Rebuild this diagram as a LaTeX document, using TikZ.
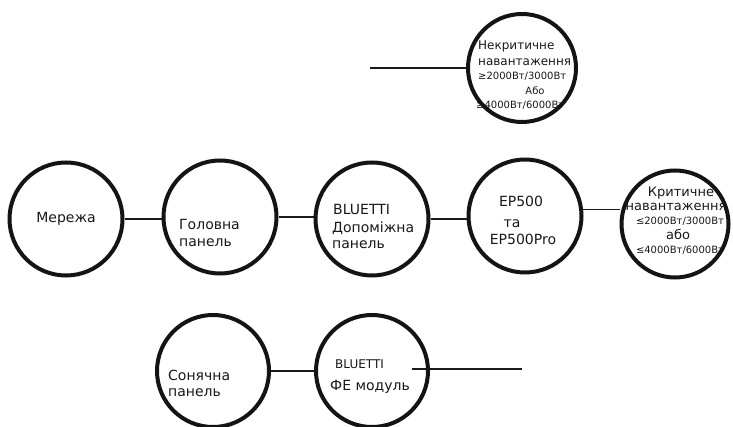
\documentclass[tikz,border=0pt]{standalone}
\usepackage{fontspec}
\setmainfont{DejaVu Sans}
\begin{document}
\begin{tikzpicture}[x=1pt,y=-1pt,
  ring/.style={circle,draw=black!92,line width=4pt,inner sep=0pt,minimum size=#1},
  link/.style={draw=black!90,line width=1.2pt},
  boldlink/.style={draw=black!90,line width=2.2pt},
  lbl/.style={inner sep=0pt,text=black!90,font=\fontsize{14}{17}\selectfont},
  lblm/.style={inner sep=0pt,text=black!90,font=\fontsize{13}{15}\selectfont},
  lbls/.style={inner sep=0pt,text=black!90,font=\fontsize{12}{14}\selectfont},
  lblxs/.style={inner sep=0pt,text=black!90,font=\fontsize{10}{12}\selectfont}]
\useasboundingbox[fill=white] (0,0) rectangle (733,427);

% texts
\node[lbl,anchor=base] (tmer) at (66,223) {Мережа};
\node[lbl,anchor=base west] (thol1) at (179,230) {Головна};
\node[lbl,anchor=base west] (thol2) at (179,247) {панель};
\node[lbl,anchor=base west] (tdop1) at (333,215) {BLUETTI};
\node[lbl,anchor=base west] (tdop2) at (332,233) {Допоміжна};
\node[lbl,anchor=base west] (tdop3) at (332,249) {панель};
\node[lbl,anchor=base] (tep1) at (521,207) {EP500};
\node[lbl,anchor=base] (tep2) at (512,228) {та};
\node[lbl,anchor=base] (tep3) at (523,245) {EP500Pro};
\node[lblm,anchor=base] (tkr1) at (681,197) {Критичне};
\node[lblm,anchor=base] (tkr2) at (676,211) {навантаження};
\node[lblxs,anchor=base] (tkr3) at (680,225) {≤2000Вт/3000Вт};
\node[lblm,anchor=base] (tkr4) at (678,240) {або};
\node[lblxs,anchor=base] (tkr5) at (680,254) {≤4000Вт/6000Вт};
\node[lbls,anchor=base west] (tnk1) at (478,50) {Некритичне};
\node[lbls,anchor=base west] (tnk2) at (478,66) {навантаження};
\node[lblxs,anchor=base west] (tnk3) at (478,80) {≥2000Вт/3000Вт};
\node[lblxs,anchor=base] (tnk4) at (535,95) {Або};
\node[lblxs,anchor=base west] (tnk5) at (476,109) {≥4000Вт/6000Вт};
\node[lbl,anchor=base west] (tson1) at (168,380) {Сонячна};
\node[lbl,anchor=base west] (tson2) at (168,396) {панель};
\node[lbls,anchor=base west] (tfe1) at (335,368) {BLUETTI};
\node[lbl,anchor=base west] (tfe2) at (330,390) {ФЕ модуль};

% circles
\node[ring=113pt] (mer) at (66,219) {};
\node[ring=113pt] (hol) at (220,217) {};
\node[ring=113pt] (dop) at (372,219) {};
\node[ring=113pt] (ep) at (525,216) {};
\node[ring=107pt] (kr) at (675,224) {};
\node[ring=108pt] (nk) at (522,68) {};
\node[ring=112pt] (son) at (213,371) {};
\node[ring=112pt] (fe) at (372,371) {};

% connectors
\draw[link] (mer.east) -- (mer.east -| hol.west);
\draw[link] (hol.east) -- (hol.east -| dop.west);
\draw[link] (dop.east) -- (dop.east -| ep.west);
\draw[link] (ep.6) -- (ep.6 -| kr.west);
\coordinate (nkfree) at (370,68);
\draw[boldlink] (nkfree) -- (nk.west);
\draw[boldlink] (son.east) -- (son.east -| fe.west);
\coordinate (feA) at (412,369);
\coordinate (feB) at (522,369);
\draw[link] (feA) -- (feB);
\end{tikzpicture}
\end{document}
